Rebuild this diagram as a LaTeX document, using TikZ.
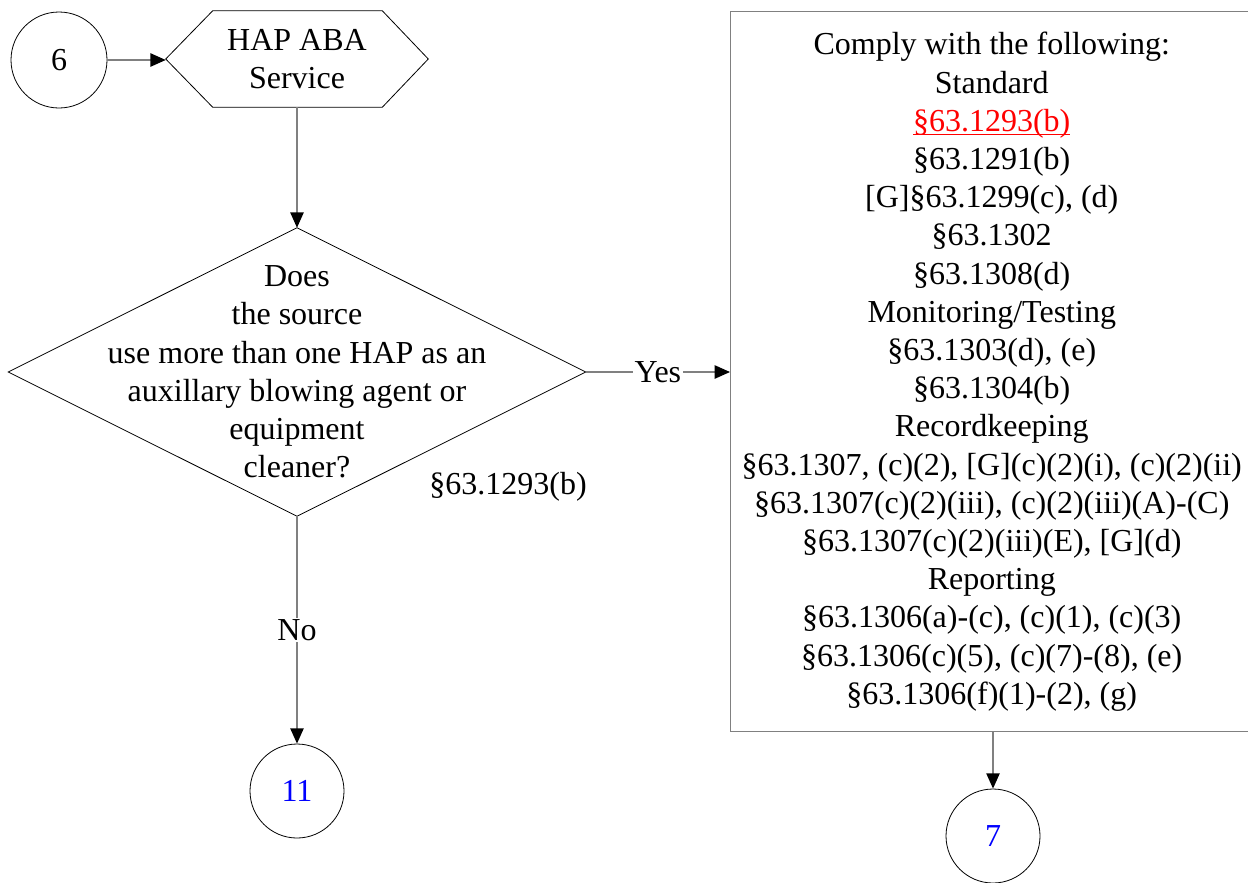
\documentclass[tikz,border=0pt]{standalone}
\usepackage{fontspec}
\setmainfont{Liberation Serif}
\usetikzlibrary{arrows.meta}
\definecolor{conncol}{HTML}{808080}
\definecolor{linkred}{HTML}{FF0000}
\definecolor{numblue}{HTML}{0000FF}
\newcommand\myulink[1]{\setbox0\hbox{#1}\rlap{\rule[-2.6pt]{\wd0}{0.9pt}}\box0}
\begin{document}
\begin{tikzpicture}[x=0.75pt,y=-0.75pt,
  txt/.style={font=\fontsize{24}{28.65}\selectfont, align=center, inner sep=0pt},
  outl/.style={draw=black, line width=0.6pt},
  circ/.style={circle, outl, minimum size=70.5pt, inner sep=0pt, font=\fontsize{24}{28.65}\selectfont},
  arr/.style={draw=conncol, line width=1.1pt, -{Triangle[length=11.5pt,width=10pt,fill=black,color=black]}},
  lbl/.style={txt, fill=white, inner sep=1pt}
]
\useasboundingbox (0,0) rectangle (1248,882);

% start connector
\node[circ, minimum size=72pt] (c6) at (59,60) {6};

% hexagon
\node[txt, minimum width=196.5pt, minimum height=72pt] (hex) at (297,59) {HAP ABA\\Service};
\draw[outl] (hex.west) -- ([xshift=35.25pt]hex.north west) -- ([xshift=-34.5pt]hex.north east)
  -- (hex.east) -- ([xshift=-34.5pt]hex.south east) -- ([xshift=35.25pt]hex.south west) -- cycle;

% decision
\node[txt, minimum width=432.75pt, minimum height=216pt] (dia) at (297,372)
  {Does\\the source\\use more than one HAP as an\\auxillary blowing agent or\\equipment\\cleaner?};
\draw[outl] (dia.north) -- (dia.east) -- (dia.south) -- (dia.west) -- cycle;

\node[txt] (ref) at (508,487) {\S63.1293(b)};

% requirements box
\node[txt, draw=conncol, line width=1.1pt, minimum width=391.5pt, minimum height=540pt, anchor=north west] (box) at (730,11)
  {Comply with the following:\\
   Standard\\
   \textcolor{linkred}{\myulink{\S63.1293(b)}}\\
   \S63.1291(b)\\
   {}[G]\S63.1299(c), (d)\\
   \S63.1302\\
   \S63.1308(d)\\
   Monitoring/Testing\\
   \S63.1303(d), (e)\\
   \S63.1304(b)\\
   Recordkeeping\\
   \S63.1307, (c)(2), [G](c)(2)(i), (c)(2)(ii)\\
   \S63.1307(c)(2)(iii), (c)(2)(iii)(A)-(C)\\
   \S63.1307(c)(2)(iii)(E), [G](d)\\
   Reporting\\
   \S63.1306(a)-(c), (c)(1), (c)(3)\\
   \S63.1306(c)(5), (c)(7)-(8), (e)\\
   \S63.1306(f)(1)-(2), (g)};

% off-page connectors
\node[circ, text=numblue] (c11) at (297,791) {11};
\node[circ, text=numblue] (c7) at (993,836) {7};

% connectors
\draw[arr] (c6.east) -- (c6.east -| hex.west);
\draw[arr] (hex.south) -- (dia.north);
\draw[arr] (dia.east) -- node[lbl] (yes) {Yes} (dia.east -| box.west);
\draw[arr] (dia.south) -- node[lbl] (no) {No} (c11.north);
\draw[arr] (box.south -| c7) -- (c7.north);
\end{tikzpicture}
\end{document}
